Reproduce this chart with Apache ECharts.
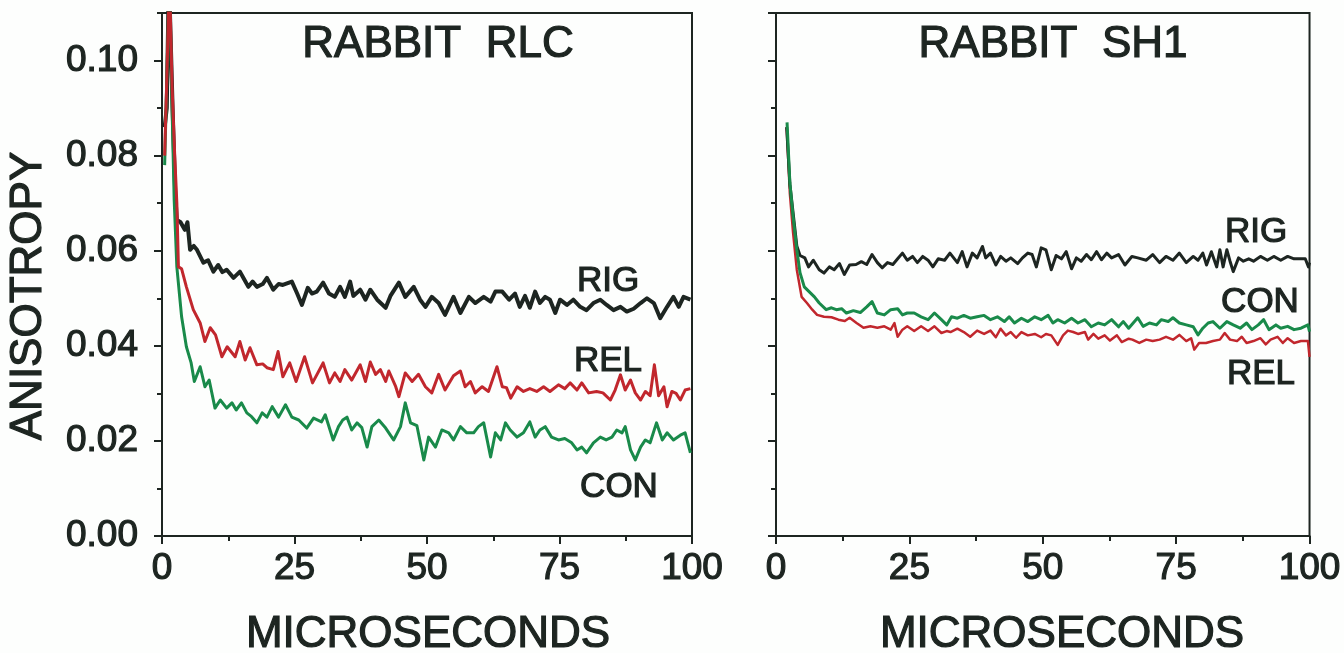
<!DOCTYPE html>
<html>
<head>
<meta charset="utf-8">
<script src="https://cdn.jsdelivr.net/npm/echarts@6/dist/echarts.min.js"></script>
<style>
  html, body { margin: 0; padding: 0; background: #fdfefd; }
  #chart { width: 1344px; height: 653px; }
</style>
</head>
<body>
<div id="chart"></div>
<script>
// tick labels
const xTicks = [0, 25, 50, 75, 100];
const yTicks = ['0.00', '0.02', '0.04', '0.06', '0.08', '0.10'];

// RABBIT RLC  [microseconds, anisotropy]
const rlcRig = [[0.5,0.086],[0.9,0.090],[1.3,0.118],[2.0,0.090],[2.5,0.072],[2.8,0.0665],[3.5,0.066],[4.3,0.0644],[4.8,0.066],[5.3,0.0602],[6.0,0.061],[6.6,0.0602],[7.8,0.0575],[8.7,0.058],[9.7,0.0556],[10.6,0.057],[11.4,0.0555],[12.2,0.056],[13.5,0.0543],[14.7,0.0556],[15.5,0.054],[16.3,0.0524],[17.1,0.0535],[17.9,0.0524],[19.0,0.053],[19.8,0.0543],[21.0,0.0518],[22.0,0.053],[22.8,0.0528],[24.5,0.0535],[25.5,0.051],[26.4,0.0486],[27.5,0.0522],[28.3,0.051],[29.2,0.0514],[30.4,0.0533],[31.5,0.051],[32.6,0.0503],[33.6,0.0524],[34.5,0.0503],[35.5,0.0535],[36.1,0.0505],[37.4,0.0518],[38.4,0.0497],[39.3,0.0518],[40.6,0.0497],[42.2,0.048],[43.1,0.0505],[44.7,0.0533],[45.9,0.0503],[47.5,0.0524],[48.7,0.0497],[49.7,0.0482],[50.9,0.0503],[52.2,0.049],[53.4,0.0465],[55.0,0.0503],[56.3,0.0469],[57.9,0.0503],[59.1,0.049],[60.7,0.0503],[62.0,0.0493],[62.9,0.0514],[64.2,0.0514],[65.5,0.0497],[66.6,0.051],[67.5,0.0482],[68.5,0.0505],[69.4,0.048],[70.4,0.0514],[71.3,0.049],[72.3,0.0503],[73.2,0.0497],[74.2,0.0469],[75.1,0.0497],[76.4,0.0486],[77.6,0.0497],[78.9,0.0482],[80.1,0.0475],[81.4,0.049],[82.7,0.0497],[83.9,0.0486],[85.2,0.0475],[86.5,0.0482],[87.7,0.0472],[89.0,0.0478],[90.3,0.049],[91.5,0.05],[92.8,0.049],[94.0,0.0458],[95.3,0.0482],[96.5,0.0503],[97.5,0.0482],[98.4,0.0503],[99.7,0.0497]];
const rlcRel = [[0.5,0.080],[1.0,0.100],[1.4,0.118],[1.9,0.0945],[2.4,0.080],[2.8,0.070],[3.1,0.0566],[3.7,0.0562],[4.6,0.0524],[5.9,0.0476],[7.2,0.0448],[8.1,0.0409],[9.1,0.0438],[10.1,0.0423],[11.3,0.0377],[12.3,0.0398],[13.8,0.0377],[14.7,0.0409],[15.7,0.037],[16.6,0.0396],[17.9,0.036],[19.0,0.0362],[19.8,0.0354],[21.0,0.035],[21.9,0.0388],[22.8,0.0335],[24.1,0.0364],[25.3,0.0325],[26.9,0.0377],[28.4,0.0322],[30.4,0.0364],[31.6,0.0322],[32.6,0.0343],[33.6,0.0325],[34.5,0.035],[35.8,0.0328],[37.4,0.036],[38.4,0.0325],[39.3,0.0366],[40.3,0.034],[41.2,0.035],[42.2,0.0325],[42.8,0.0347],[44.1,0.0314],[44.7,0.0293],[45.9,0.0343],[47.2,0.0325],[48.4,0.034],[49.7,0.0314],[50.9,0.0301],[52.2,0.034],[53.4,0.0307],[55.0,0.0337],[56.3,0.0347],[57.2,0.0314],[58.2,0.0325],[59.1,0.0301],[60.4,0.0314],[61.6,0.0304],[63.2,0.0356],[64.2,0.0314],[65.0,0.0312],[65.8,0.029],[67.0,0.0314],[68.2,0.0304],[69.4,0.031],[70.7,0.0304],[72.0,0.0314],[73.2,0.0304],[74.8,0.0318],[76.0,0.031],[77.0,0.0322],[78.3,0.0307],[79.2,0.0322],[80.5,0.0301],[82.0,0.0304],[83.2,0.0301],[84.6,0.0286],[85.5,0.0307],[86.5,0.0339],[87.4,0.0307],[88.4,0.0328],[89.3,0.0301],[90.3,0.0286],[91.2,0.0304],[92.1,0.0295],[92.9,0.036],[93.7,0.0295],[94.7,0.0314],[95.3,0.0272],[96.2,0.0304],[97.0,0.030],[97.8,0.0286],[98.7,0.0307],[99.7,0.031]];
const rlcCon = [[0.5,0.078],[1.0,0.100],[1.4,0.118],[1.9,0.090],[2.3,0.0707],[2.8,0.0566],[3.7,0.0461],[4.6,0.0398],[5.5,0.0364],[6.1,0.0325],[7.2,0.0356],[8.1,0.0314],[8.9,0.0328],[10.0,0.0269],[11.0,0.0286],[12.2,0.0269],[13.2,0.028],[14.0,0.0265],[15.0,0.028],[16.0,0.0259],[16.9,0.0251],[17.9,0.0238],[18.9,0.0259],[19.8,0.025],[20.8,0.0272],[22.0,0.025],[23.3,0.0276],[24.5,0.025],[25.8,0.0244],[27.3,0.0227],[28.6,0.0248],[30.1,0.024],[30.8,0.0255],[32.3,0.0202],[33.3,0.023],[34.1,0.0244],[34.9,0.025],[35.8,0.0223],[36.8,0.0238],[37.7,0.0228],[38.7,0.0187],[39.6,0.023],[40.9,0.0244],[42.2,0.0227],[43.7,0.0202],[45.0,0.023],[45.9,0.028],[46.9,0.0238],[48.1,0.0232],[49.4,0.016],[50.3,0.0208],[51.6,0.0187],[52.8,0.0223],[54.1,0.0217],[55.0,0.0202],[56.3,0.023],[57.5,0.0217],[58.8,0.0217],[59.7,0.023],[60.7,0.0238],[62.0,0.0166],[62.9,0.0217],[63.9,0.0202],[64.8,0.0238],[65.7,0.0223],[67.0,0.0208],[68.2,0.0217],[69.4,0.024],[70.4,0.0208],[71.3,0.0223],[72.3,0.023],[73.5,0.0208],[74.8,0.0202],[76.0,0.0205],[77.3,0.0196],[78.3,0.0181],[79.2,0.0187],[80.1,0.0175],[81.4,0.0196],[82.7,0.0208],[83.8,0.0202],[84.9,0.0208],[85.8,0.0223],[86.8,0.0217],[87.4,0.023],[88.4,0.0181],[89.3,0.016],[90.3,0.0187],[91.2,0.0202],[92.1,0.0196],[93.3,0.0238],[94.4,0.0202],[95.3,0.0217],[96.5,0.0202],[97.8,0.0212],[98.7,0.0217],[99.7,0.0175]];

// RABBIT SH1
const shRig = [[2.0,0.086],[2.6,0.074],[3.2,0.068],[3.9,0.061],[4.5,0.059],[4.8,0.0588],[5.4,0.0585],[6.1,0.0566],[7.0,0.058],[8.1,0.056],[9.0,0.0553],[10.0,0.0566],[10.9,0.056],[11.9,0.0573],[12.8,0.055],[13.8,0.057],[15.0,0.0571],[16.0,0.0577],[17.0,0.0571],[18.0,0.0592],[19.0,0.0575],[19.9,0.0564],[20.9,0.0575],[21.9,0.0571],[22.8,0.0583],[23.7,0.0595],[24.6,0.058],[25.6,0.0588],[26.5,0.0575],[27.5,0.0588],[28.5,0.058],[29.4,0.0566],[30.4,0.0583],[31.6,0.058],[32.6,0.0595],[34.0,0.0575],[34.9,0.0598],[35.8,0.0566],[36.8,0.0595],[37.7,0.0585],[38.7,0.0609],[39.3,0.0585],[40.2,0.0595],[41.2,0.057],[42.1,0.0588],[43.1,0.0578],[44.0,0.0585],[45.3,0.0573],[46.2,0.0585],[47.2,0.0595],[48.0,0.0592],[48.8,0.0566],[49.7,0.0606],[50.6,0.0602],[51.6,0.056],[52.5,0.059],[53.5,0.0583],[54.4,0.0598],[55.4,0.0562],[56.3,0.0585],[57.2,0.0578],[58.2,0.0592],[59.1,0.0581],[60.1,0.0598],[61.0,0.0581],[62.0,0.0595],[62.9,0.0585],[64.2,0.0592],[65.4,0.057],[66.7,0.0588],[67.8,0.0585],[69.4,0.058],[70.6,0.0592],[71.9,0.0575],[73.1,0.0588],[74.4,0.058],[75.6,0.0595],[76.9,0.0575],[78.2,0.0588],[79.1,0.058],[80.0,0.0595],[80.7,0.057],[81.6,0.0598],[82.6,0.0566],[83.2,0.0602],[83.8,0.0566],[84.5,0.0602],[85.1,0.0578],[85.7,0.0556],[86.7,0.0585],[87.6,0.0578],[88.6,0.0583],[89.5,0.0578],[90.8,0.0588],[92.1,0.058],[93.3,0.0588],[94.6,0.058],[95.9,0.0588],[97.1,0.0583],[98.0,0.0583],[99.2,0.0583],[99.8,0.0566],[100,0.0575]];
const shCon = [[2.07,0.087],[2.6,0.0743],[3.2,0.0672],[3.9,0.0602],[4.5,0.0554],[5.3,0.0524],[6.2,0.0514],[7.2,0.0503],[8.1,0.049],[9.4,0.0476],[10.4,0.048],[11.3,0.0476],[12.3,0.0478],[13.2,0.0469],[14.5,0.0474],[15.8,0.047],[17.0,0.0482],[18.0,0.0493],[19.0,0.0469],[20.3,0.0465],[21.5,0.0476],[22.8,0.0478],[23.7,0.0465],[24.6,0.0469],[25.9,0.0469],[27.2,0.0461],[28.5,0.0455],[29.7,0.0469],[31.0,0.0455],[32.0,0.0444],[32.9,0.0461],[34.0,0.0458],[35.2,0.0464],[36.4,0.0458],[37.7,0.0461],[39.0,0.0464],[40.2,0.0455],[41.5,0.0461],[42.8,0.0451],[43.7,0.0461],[44.7,0.0448],[46.0,0.0458],[47.2,0.0451],[48.5,0.0461],[49.7,0.0455],[51.0,0.0464],[51.9,0.0448],[52.8,0.0455],[54.1,0.0448],[55.4,0.0458],[56.6,0.0448],[57.9,0.0455],[59.1,0.044],[60.4,0.0448],[61.6,0.0444],[62.9,0.0455],[64.2,0.044],[65.1,0.0451],[66.1,0.0437],[67.8,0.0459],[68.8,0.0441],[70.0,0.0448],[71.3,0.0444],[72.2,0.0455],[73.5,0.0451],[74.4,0.0459],[75.6,0.0448],[76.9,0.0444],[78.2,0.044],[79.1,0.0423],[80.0,0.0437],[81.0,0.0448],[81.9,0.0451],[83.2,0.0437],[84.5,0.0451],[85.7,0.0444],[87.0,0.0437],[88.2,0.0448],[89.2,0.0434],[90.4,0.0444],[91.4,0.0455],[92.4,0.0434],[93.7,0.0444],[94.6,0.0437],[95.9,0.0441],[97.1,0.0434],[98.4,0.0437],[99.7,0.0444],[100,0.043]];
const shRel = [[2.0,0.086],[2.6,0.072],[3.2,0.0638],[3.9,0.056],[4.8,0.0503],[5.8,0.049],[6.8,0.0476],[7.7,0.0465],[9.0,0.0461],[10.4,0.046],[11.7,0.0455],[12.9,0.0452],[13.8,0.0459],[15.1,0.0448],[16.4,0.0438],[17.7,0.0441],[19.0,0.0438],[20.3,0.0441],[21.5,0.0434],[22.2,0.0448],[22.8,0.0419],[23.7,0.0434],[24.6,0.0441],[25.9,0.0431],[27.2,0.0441],[28.5,0.0431],[29.7,0.0441],[31.0,0.0427],[32.0,0.0431],[32.7,0.0429],[34.0,0.0436],[35.2,0.0429],[36.4,0.0419],[37.7,0.0432],[39.0,0.0425],[40.2,0.0432],[41.2,0.0418],[42.1,0.0436],[43.1,0.0422],[44.0,0.0429],[45.0,0.0417],[46.0,0.0429],[47.2,0.0422],[48.5,0.0425],[49.7,0.0418],[50.6,0.0425],[51.6,0.0422],[52.8,0.0402],[53.8,0.0422],[54.7,0.0432],[55.7,0.0429],[56.6,0.0425],[57.9,0.0429],[58.5,0.0413],[59.5,0.0425],[60.4,0.0415],[61.6,0.0422],[62.6,0.0411],[63.9,0.0422],[64.8,0.0408],[66.1,0.0415],[66.8,0.0413],[68.1,0.0406],[69.4,0.0413],[70.6,0.041],[71.9,0.0413],[73.1,0.0419],[74.4,0.0413],[75.6,0.0423],[76.9,0.041],[77.8,0.0416],[78.4,0.0392],[79.3,0.0406],[80.6,0.0406],[81.9,0.041],[83.2,0.0413],[84.1,0.0427],[85.1,0.0413],[86.4,0.041],[87.3,0.0419],[88.2,0.0406],[89.5,0.041],[90.8,0.0416],[91.8,0.0403],[92.7,0.0413],[94.0,0.0419],[95.0,0.0406],[95.9,0.0416],[97.1,0.0406],[98.4,0.041],[99.7,0.041],[100,0.0377]];

var ink = '#1d2521';
var fontFam = '"Liberation Sans", Arial, sans-serif';
var black = '#1d2521', red = '#c1272d', green = '#198a4a';

var chart = echarts.init(document.getElementById('chart'));

// panel boxes; the minor-tick grids sit exactly on top of them
var panelLeft = { left: 162, right: 652, top: 13, bottom: 117 };
var panelRight = { left: 776, right: 34, top: 13, bottom: 117 };

function xAxisFor(gridIndex) {
	return {
		type: 'value', gridIndex: gridIndex, min: 0, max: 100, interval: 25,
		axisLine: { lineStyle: { color: ink, width: 2 } },
		axisTick: { length: 8, lineStyle: { color: ink, width: 2 } },
		minorTick: { show: true, splitNumber: 2, length: 5, lineStyle: { color: ink, width: 2 } },
		axisLabel: {
			color: ink, fontSize: 37, fontFamily: fontFam, margin: 14,
			textBorderColor: ink, textBorderWidth: 1.2,
			formatter: function (v) { return xTicks.indexOf(v) >= 0 ? String(v) : ''; }
		},
		splitLine: { show: false }
	};
}

function xHidden(gridIndex) {
	return { type: 'value', gridIndex: gridIndex, min: 0, max: 100, show: false };
}

function yMajor(gridIndex, labels) {
	return {
		type: 'value', gridIndex: gridIndex, position: 'left', min: 0, max: 0.11, interval: 0.02,
		axisLine: { show: true, lineStyle: { color: ink, width: 2 } },
		axisTick: { show: true, length: 8, lineStyle: { color: ink, width: 2 } },
		axisLabel: {
			show: labels, color: ink, fontSize: 37, fontFamily: fontFam, margin: 24,
			textBorderColor: ink, textBorderWidth: 1.2,
			showMaxLabel: false,
			formatter: function (v) {
				var s = v.toFixed(2);
				return yTicks.indexOf(s) >= 0 ? s : '';
			}
		},
		splitLine: { show: false }
	};
}

function yMinor(gridIndex) {
	return {
		type: 'value', gridIndex: gridIndex, position: 'left', min: 0, max: 0.11, interval: 0.01,
		axisLine: { show: false },
		axisTick: { show: true, length: 5, lineStyle: { color: ink, width: 2 } },
		axisLabel: { show: false },
		splitLine: { show: false }
	};
}

function line(name, data, color, width, xi, yi) {
	return {
		name: name, type: 'line', data: data, xAxisIndex: xi, yAxisIndex: yi,
		showSymbol: false, symbol: 'none', clip: true,
		lineStyle: { color: color, width: width, join: 'round' },
		z: 3
	};
}

function label(text, x, y, size) {
	return {
		type: 'text', x: x, y: y, z: 10,
		style: {
			text: text, fill: ink, stroke: ink, lineWidth: 1.2,
			font: size + 'px ' + fontFam,
			textAlign: 'center', textVerticalAlign: 'middle'
		}
	};
}

var option = {
	animation: false,
	backgroundColor: '#fdfefd',
	grid: [
		Object.assign({ show: true, borderColor: ink, borderWidth: 2 }, panelLeft),
		Object.assign({ show: true, borderColor: ink, borderWidth: 2 }, panelRight),
		Object.assign({ show: false }, panelLeft),
		Object.assign({ show: false }, panelRight)
	],
	xAxis: [xAxisFor(0), xAxisFor(1), xHidden(2), xHidden(3)],
	yAxis: [yMajor(0, true), yMinor(2), yMajor(1, false), yMinor(3)],
	series: [
		line('RLC RIG', rlcRig, black, 4, 0, 0),
		line('RLC CON', rlcCon, green, 3, 0, 0),
		line('RLC REL', rlcRel, red, 3, 0, 0),
		line('SH1 REL', shRel, red, 2.5, 1, 2),
		line('SH1 RIG', shRig, black, 3, 1, 2),
		line('SH1 CON', shCon, green, 3, 1, 2)
	],
	graphic: [
		label('RABBIT  RLC', 438, 45, 44),
		label('RABBIT  SH1', 1053, 45, 44),
		label('MICROSECONDS', 428, 635, 44),
		label('MICROSECONDS', 1062, 635, 44),
		label('RIG', 608, 281, 35),
		label('REL', 608, 361, 35),
		label('CON', 619, 487, 35),
		label('RIG', 1256, 232, 35),
		label('CON', 1260, 302, 35),
		label('REL', 1261, 374, 35),
		{
			type: 'text', x: 29, y: 296, rotation: Math.PI / 2, z: 10,
			style: {
				text: 'ANISOTROPY', fill: ink, stroke: ink, lineWidth: 1.2,
				font: '44px ' + fontFam,
				textAlign: 'center', textVerticalAlign: 'middle'
			}
		}
	]
};

chart.setOption(option);

window.addEventListener('resize', function () {
	chart.resize();
});
</script>
</body>
</html>
